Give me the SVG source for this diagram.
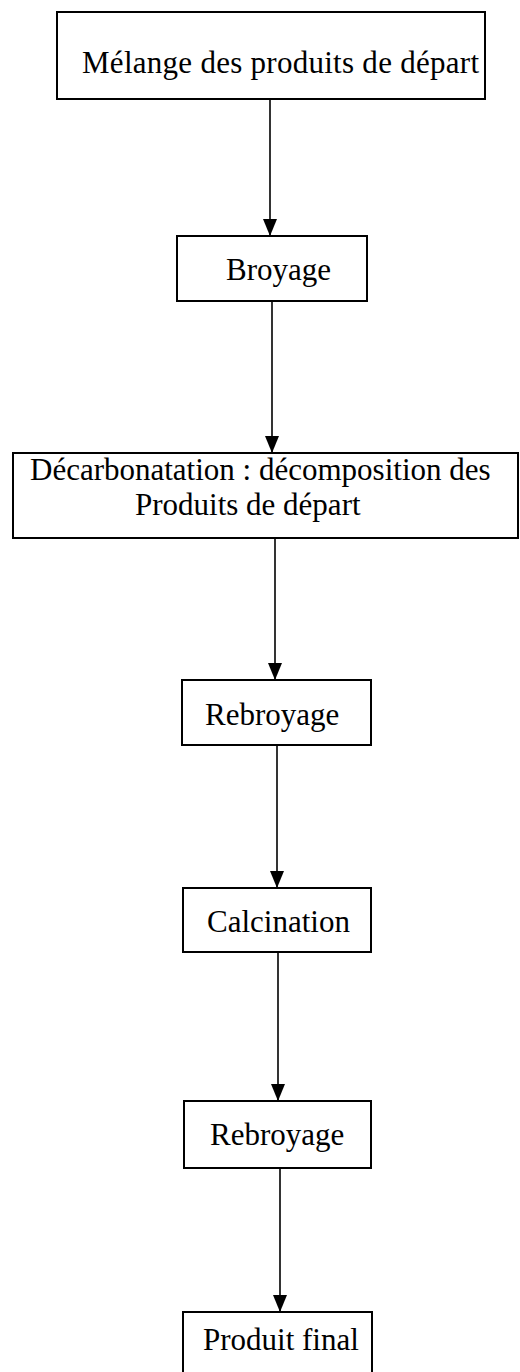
<svg xmlns="http://www.w3.org/2000/svg" width="520" height="1372" viewBox="0 0 520 1372">
<style>
.box{fill:#fff;stroke:#000;stroke-width:2}
.lbl{font-family:"Liberation Serif","Times New Roman",serif;font-size:31px;fill:#000}
.conn{stroke:#000;stroke-width:1.6;fill:none}
</style>
<defs>
<marker id="ah" markerUnits="userSpaceOnUse" markerWidth="18" markerHeight="16" viewBox="0 0 18 16" refX="17" refY="8" orient="auto">
<path d="M0 1 L17 8 L0 15 Z" fill="#000"/>
</marker>
</defs>
<rect width="520" height="1372" fill="#fff"/>
<g id="connectors">
<line class="conn" x1="270" y1="99" x2="270" y2="236" marker-end="url(#ah)"/>
<line class="conn" x1="272" y1="301" x2="272" y2="453" marker-end="url(#ah)"/>
<line class="conn" x1="275" y1="538" x2="275" y2="680" marker-end="url(#ah)"/>
<line class="conn" x1="277" y1="745" x2="277" y2="888" marker-end="url(#ah)"/>
<line class="conn" x1="278" y1="952" x2="278" y2="1101" marker-end="url(#ah)"/>
<line class="conn" x1="280" y1="1168" x2="280" y2="1312" marker-end="url(#ah)"/>
</g>
<g id="n1"><rect class="box" x="57" y="12" width="428" height="87"/><text class="lbl" x="82" y="73" textLength="397" lengthAdjust="spacing">Mélange des produits de départ</text></g>
<g id="n2"><rect class="box" x="177" y="236" width="190" height="65"/><text class="lbl" x="226" y="280">Broyage</text></g>
<g id="n3"><rect class="box" x="13" y="453" width="505" height="85"/><text class="lbl" x="30" y="480">Décarbonatation : décomposition des</text><text class="lbl" x="135" y="515">Produits de départ</text></g>
<g id="n4"><rect class="box" x="182" y="680" width="189" height="65"/><text class="lbl" x="205" y="725">Rebroyage</text></g>
<g id="n5"><rect class="box" x="183" y="888" width="188" height="64"/><text class="lbl" x="207" y="932">Calcination</text></g>
<g id="n6"><rect class="box" x="184" y="1101" width="187" height="67"/><text class="lbl" x="210" y="1145">Rebroyage</text></g>
<g id="n7"><rect class="box" x="183" y="1312" width="189" height="80"/><text class="lbl" x="203" y="1350">Produit final</text></g>
</svg>
